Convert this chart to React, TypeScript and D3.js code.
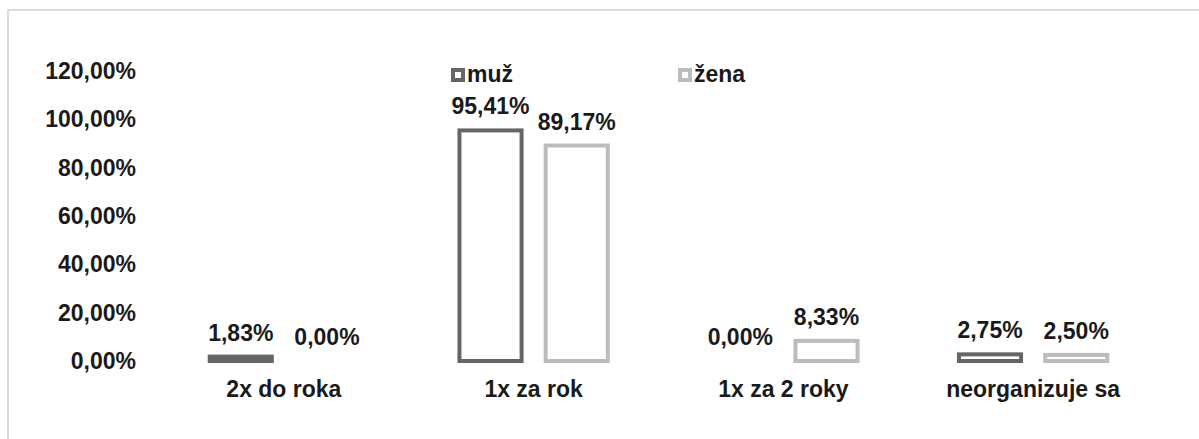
import React from 'react';
import * as d3 from 'd3';

const categories = ['2x do roka', '1x za rok', '1x za 2 roky', 'neorganizuje sa'];
const series = ['muž', 'žena'];
const muz = [0.0183, 0.9541, 0, 0.0275];
const zena = [0, 0.8917, 0.0833, 0.025];
const yTicks = [0, 0.2, 0.4, 0.6, 0.8, 1.0, 1.2];

const colors: Record<string, string> = { 'muž': '#656565', 'žena': '#bcbcbc' };
const font = '"Liberation Sans", Arial, sans-serif';
const fs = 23;

const fmt = (v: number) => (v * 100).toFixed(2).replace('.', ',') + '%';

export default function App() {
  const width = 1199;
  const height = 439;

  const x0 = d3.scaleBand<string>().domain(categories).range([159, 1158]).paddingInner(0.39).paddingOuter(0.195);
  const x1 = d3.scaleBand<string>().domain(series).range([0, x0.bandwidth()]).paddingInner(0.233);
  const y = d3.scaleLinear().domain([0, 1.2]).range([361, 71]);

  const rows = categories.map((c, i) => ({ cat: c, values: [muz[i], zena[i]] }));

  return (
    <svg width={width} height={height} style={{ position: 'absolute', left: 0, top: 0 }} fontFamily={font}>
      <rect x={0} y={0} width={width} height={height} fill="#fff" />
      <rect x={8} y={10} width={1300} height={500} fill="none" stroke="#dcdcdc" strokeWidth={2} />

      {yTicks.map((t) => (
        <text key={t} x={136} y={y(t)} dy="0.35em" textAnchor="end" fontSize={fs} fontWeight="bold" fill="#1a1a1a">
          {fmt(t)}
        </text>
      ))}

      {rows.map((r) => (
        <g key={r.cat} transform={`translate(${x0(r.cat)},0)`}>
          {r.values.map((v, j) => {
            const s = series[j];
            const bx = x1(s)!;
            const bw = x1.bandwidth();
            const h = y(0) - y(v);
            return (
              <g key={s}>
                {v > 0 && (
                  <rect
                    x={bx + 2}
                    y={y(v)}
                    width={bw - 4}
                    height={h}
                    fill={h < 5 ? colors[s] : '#fff'}
                    stroke={colors[s]}
                    strokeWidth={4}
                  />
                )}
                <text x={bx + bw / 2} y={y(v) - 16} textAnchor="middle" fontSize={fs} fontWeight="bold" fill="#1a1a1a">
                  {fmt(v)}
                </text>
              </g>
            );
          })}
          <text x={x0.bandwidth() / 2} y={397} textAnchor="middle" fontSize={fs} fontWeight="bold" fill="#1a1a1a">
            {r.cat}
          </text>
        </g>
      ))}

      {series.map((s, i) => {
        const lx = i === 0 ? 451 : 678;
        return (
          <g key={s} transform={`translate(${lx},68)`}>
            <rect x={2} y={2} width={10} height={10} fill="#fff" stroke={colors[s]} strokeWidth={4} />
            <text x={16} y={14} fontSize={fs} fontWeight="bold" fill="#1a1a1a">
              {s}
            </text>
          </g>
        );
      })}
    </svg>
  );
}
